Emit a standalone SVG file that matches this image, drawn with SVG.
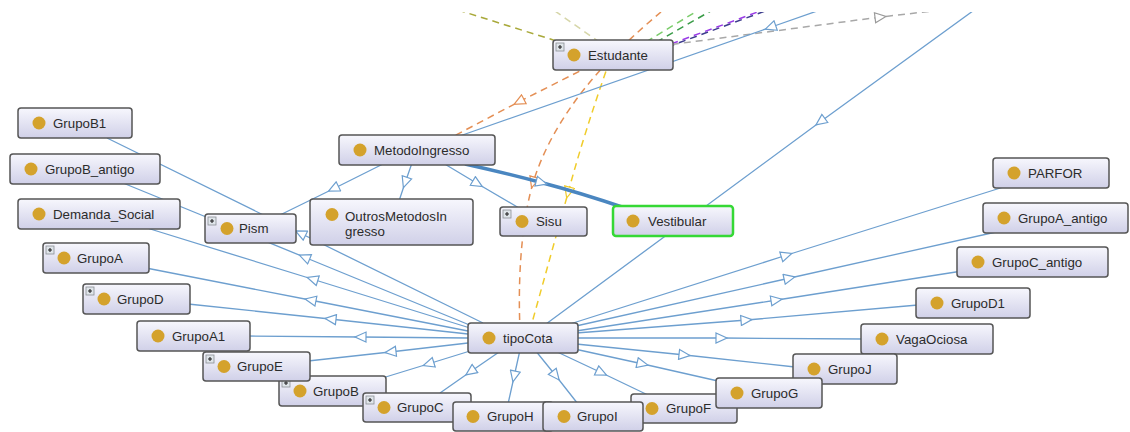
<svg xmlns="http://www.w3.org/2000/svg" width="1130" height="432" viewBox="0 0 1130 432">
  <defs>
    <linearGradient id="boxFill" x1="0" y1="0" x2="0" y2="1">
      <stop offset="0" stop-color="#f7f7fd"/>
      <stop offset="1" stop-color="#d0d0e8"/>
    </linearGradient>
    <clipPath id="viewClip">
      <rect x="0" y="12" width="1130" height="420"/>
    </clipPath>
    <!-- hollow mid-edge arrowheads -->
    <marker id="arrBlue" markerUnits="userSpaceOnUse" viewBox="-1 -1 14 12" markerWidth="14" markerHeight="12" refX="6" refY="5" orient="auto">
      <path d="M0,0 L11,5 L0,10 Z" fill="#fff" stroke="#6d9fcf" stroke-width="1.2"/>
    </marker>
    <marker id="arrOrange" markerUnits="userSpaceOnUse" viewBox="-1 -1 14 12" markerWidth="14" markerHeight="12" refX="6" refY="5" orient="auto">
      <path d="M0,0 L11,5 L0,10 Z" fill="#fff" stroke="#e48f55" stroke-width="1.2"/>
    </marker>
    <marker id="arrYellow" markerUnits="userSpaceOnUse" viewBox="-1 -1 14 12" markerWidth="14" markerHeight="12" refX="6" refY="5" orient="auto">
      <path d="M0,0 L11,5 L0,10 Z" fill="#fff" stroke="#f0cc2a" stroke-width="1.2"/>
    </marker>
    <marker id="arrGray" markerUnits="userSpaceOnUse" viewBox="-1 -1 14 12" markerWidth="14" markerHeight="12" refX="6" refY="5" orient="auto">
      <path d="M0,0 L11,5 L0,10 Z" fill="#fff" stroke="#9a9a9a" stroke-width="1.2"/>
    </marker>
    <g id="plusIcon">
      <rect x="0" y="0" width="8" height="8" fill="#dfe5ea" stroke="#8a8f95" stroke-width="0.8"/>
      <path d="M2,4 H6 M4,2 V6" stroke="#222" stroke-width="1.1"/>
    </g>
  </defs>
  <style>
    .edge { fill: none; stroke: #6d9fcf; stroke-width: 1.3; marker-mid: url(#arrBlue); }
    .thick { fill: none; stroke: #4a86c0; stroke-width: 3.5; marker-mid: url(#arrBlue); }
    .dash { fill: none; stroke-width: 1.5; stroke-dasharray: 7 5; }
    .node rect.box { fill: url(#boxFill); stroke: #555; stroke-width: 1.5; }
    .node circle { fill: #d4a22c; }
    .node text { font-family: "Liberation Sans", Arial, sans-serif; font-size: 13.3px; fill: #2b2b2b; }
    #n-Vestibular rect.box { stroke: #35d835; stroke-width: 2.5; }
  </style>

  <rect x="0" y="0" width="1130" height="432" fill="#ffffff"/>

  <g id="connectors" clip-path="url(#viewClip)">
    <!-- property links around Estudante -->
    <path class="dash" stroke="#a9a93a" d="M458,10 L585,50"/>
    <path class="dash" stroke="#d6d6a8" d="M545,4 L605,46"/>
    <path class="dash" stroke="#7acc6a" d="M636,48 L702,8"/>
    <path class="dash" stroke="#3a9c48" d="M646,48 L716,8"/>
    <path class="dash" stroke="#3c3c8c" stroke-width="1" d="M662,49 L776,7" stroke-dashoffset="6"/>
    <path class="dash" stroke="#9a3ce6" stroke-width="2.2" d="M660,48 L774,6"/>
    <path class="dash" stroke="#a8a8a8" d="M660,46 L881,17 L950,9" style="marker-mid:url(#arrGray)"/>
    <path class="dash" stroke="#e48f55" d="M661,12 C615,50 555,110 533,183 C525,210 517,260 520,330" style="marker-mid:url(#arrOrange)"/>
    <path class="dash" stroke="#e48f55" d="M590,66 L518.5,102 L454,136" style="marker-mid:url(#arrOrange)"/>
    <path class="dash" stroke="#f0cc2a" d="M610,60 Q585,130 568,193 Q550,258 530,330" style="marker-mid:url(#arrYellow)"/>

    <!-- subclass links -->
    <path class="edge" d="M820,10 L770,27.5 L454,138"/>
    <path class="edge" d="M977,8 L820,122 L546,324"/>
    <path class="edge" d="M385,163 L333,189 L280,215"/>
    <path class="edge" d="M412,163 L405,183 L399,201"/>
    <path class="edge" d="M443,163 L478,184 L519,208"/>
    <path class="thick" d="M465,164 Q503.5,172.5 542,182.75 Q581,193 625,208"/>

    <path class="edge" d="M483,323 L300,233 L107,138"/>
    <path class="edge" d="M472,326 L304,257 L123,183"/>
    <path class="edge" d="M470,328 L312,279 L147,228"/>
    <path class="edge" d="M468,331 L310,300 L146,268"/>
    <path class="edge" d="M468,334 L330,319 L188,304"/>
    <path class="edge" d="M468,338 L360,337 L248,336"/>
    <path class="edge" d="M468,343 L390,352 L308,361"/>
    <path class="edge" d="M470,351 L428,364 L384,377.5"/>
    <path class="edge" d="M502,350 L470,372 L440,393"/>
    <path class="edge" d="M520,350 L514,377 L508,404"/>
    <path class="edge" d="M535,350 L556,376 L578,404"/>
    <path class="edge" d="M553,350 L602,373 L650,396"/>
    <path class="edge" d="M570,348 L643,364 L718,381"/>
    <path class="edge" d="M576,344 L685,355 L795,367"/>
    <path class="edge" d="M576,338 L722,338 L863,339"/>
    <path class="edge" d="M576,333 L747,320 L918,305"/>
    <path class="edge" d="M576,331 L777,300 L975,269"/>
    <path class="edge" d="M576,326 L790,278 L1005,230"/>
    <path class="edge" d="M570,324 L787,255 L1010,185"/>
  </g>

  <!-- classes -->
  <g id="n-Estudante" class="node">
    <rect class="box" x="553" y="40" width="120" height="30" rx="3"/>
    <use href="#plusIcon" x="556" y="43"/>
    <circle cx="574" cy="55" r="6.5"/>
    <text x="588" y="59.5">Estudante</text>
  </g>
  <g id="n-MetodoIngresso" class="node">
    <rect class="box" x="339" y="135" width="156" height="30" rx="3"/>
    <circle cx="360" cy="150" r="6.5"/>
    <text x="374" y="154.5">MetodoIngresso</text>
  </g>
  <g id="n-GrupoB1" class="node">
    <rect class="box" x="18" y="108" width="114" height="30" rx="3"/>
    <circle cx="39" cy="123" r="6.5"/>
    <text x="53" y="127.5">GrupoB1</text>
  </g>
  <g id="n-GrupoB_antigo" class="node">
    <rect class="box" x="10" y="154" width="150" height="30" rx="3"/>
    <circle cx="31" cy="169" r="6.5"/>
    <text x="45" y="173.5">GrupoB_antigo</text>
  </g>
  <g id="n-Demanda_Social" class="node">
    <rect class="box" x="18" y="199" width="162" height="30" rx="3"/>
    <circle cx="39" cy="214" r="6.5"/>
    <text x="53" y="218.5">Demanda_Social</text>
  </g>
  <g id="n-Pism" class="node">
    <rect class="box" x="205" y="214" width="91" height="29" rx="3"/>
    <use href="#plusIcon" x="208" y="217"/>
    <circle cx="227" cy="228.5" r="6.5"/>
    <text x="239" y="233">Pism</text>
  </g>
  <g id="n-OutrosMetodosIngresso" class="node">
    <rect class="box" x="310" y="199" width="163" height="46" rx="3"/>
    <circle cx="332" cy="214.5" r="6.5"/>
    <text x="345" y="220.5">OutrosMetodosIn</text>
    <text x="345" y="235.5">gresso</text>
  </g>
  <g id="n-Sisu" class="node">
    <rect class="box" x="500" y="207" width="87" height="29" rx="3"/>
    <use href="#plusIcon" x="503" y="210"/>
    <circle cx="522" cy="221.5" r="6.5"/>
    <text x="536" y="226">Sisu</text>
  </g>
  <g id="n-Vestibular" class="node">
    <rect class="box" x="613" y="206" width="120" height="30" rx="3"/>
    <circle cx="633" cy="221" r="6.5"/>
    <text x="648" y="225.5">Vestibular</text>
  </g>
  <g id="n-PARFOR" class="node">
    <rect class="box" x="993" y="158" width="116" height="30" rx="3"/>
    <circle cx="1014" cy="173" r="6.5"/>
    <text x="1028" y="177.5">PARFOR</text>
  </g>
  <g id="n-GrupoA_antigo" class="node">
    <rect class="box" x="983" y="203" width="145" height="30" rx="3"/>
    <circle cx="1004" cy="218" r="6.5"/>
    <text x="1018" y="222.5">GrupoA_antigo</text>
  </g>
  <g id="n-GrupoC_antigo" class="node">
    <rect class="box" x="957" y="247" width="151" height="30" rx="3"/>
    <circle cx="978" cy="262" r="6.5"/>
    <text x="992" y="266.5">GrupoC_antigo</text>
  </g>
  <g id="n-GrupoD1" class="node">
    <rect class="box" x="916" y="288" width="114" height="30" rx="3"/>
    <circle cx="937" cy="303" r="6.5"/>
    <text x="951" y="307.5">GrupoD1</text>
  </g>
  <g id="n-VagaOciosa" class="node">
    <rect class="box" x="861" y="324" width="132" height="30" rx="3"/>
    <circle cx="882" cy="339" r="6.5"/>
    <text x="896" y="343.5">VagaOciosa</text>
  </g>
  <g id="n-GrupoJ" class="node">
    <rect class="box" x="793" y="354" width="104" height="30" rx="3"/>
    <circle cx="814" cy="369" r="6.5"/>
    <text x="828" y="373.5">GrupoJ</text>
  </g>
  <g id="n-GrupoA" class="node">
    <rect class="box" x="43" y="243" width="106" height="30" rx="3"/>
    <use href="#plusIcon" x="46" y="246"/>
    <circle cx="64" cy="258" r="6.5"/>
    <text x="77" y="262.5">GrupoA</text>
  </g>
  <g id="n-GrupoD" class="node">
    <rect class="box" x="83" y="284" width="107" height="30" rx="3"/>
    <use href="#plusIcon" x="86" y="287"/>
    <circle cx="104" cy="299" r="6.5"/>
    <text x="117" y="303.5">GrupoD</text>
  </g>
  <g id="n-GrupoA1" class="node">
    <rect class="box" x="137" y="321" width="113" height="30" rx="3"/>
    <circle cx="158" cy="336" r="6.5"/>
    <text x="172" y="340.5">GrupoA1</text>
  </g>
  <g id="n-GrupoB" class="node">
    <rect class="box" x="279" y="376" width="107" height="30" rx="3"/>
    <use href="#plusIcon" x="282" y="379"/>
    <circle cx="300" cy="391" r="6.5"/>
    <text x="313" y="395.5">GrupoB</text>
  </g>
  <g id="n-GrupoE" class="node">
    <rect class="box" x="203" y="352" width="107" height="29" rx="3"/>
    <use href="#plusIcon" x="206" y="355"/>
    <circle cx="224" cy="366.5" r="6.5"/>
    <text x="237" y="371">GrupoE</text>
  </g>
  <g id="n-GrupoC" class="node">
    <rect class="box" x="363" y="393" width="108" height="29" rx="3"/>
    <use href="#plusIcon" x="366" y="396"/>
    <circle cx="384" cy="407.5" r="6.5"/>
    <text x="397" y="412">GrupoC</text>
  </g>
  <g id="n-GrupoH" class="node">
    <rect class="box" x="453" y="402" width="100" height="29" rx="3"/>
    <circle cx="473" cy="416.5" r="6.5"/>
    <text x="487" y="421">GrupoH</text>
  </g>
  <g id="n-GrupoF" class="node">
    <rect class="box" x="631" y="394" width="106" height="29" rx="3"/>
    <circle cx="652" cy="408.5" r="6.5"/>
    <text x="666" y="413">GrupoF</text>
  </g>
  <g id="n-GrupoI" class="node">
    <rect class="box" x="543" y="402" width="100" height="29" rx="3"/>
    <circle cx="564" cy="416.5" r="6.5"/>
    <text x="577" y="421">GrupoI</text>
  </g>
  <g id="n-GrupoG" class="node">
    <rect class="box" x="716" y="378" width="106" height="30" rx="3"/>
    <circle cx="737" cy="393" r="6.5"/>
    <text x="751" y="397.5">GrupoG</text>
  </g>
  <g id="n-tipoCota" class="node">
    <rect class="box" x="468" y="323" width="110" height="30" rx="3"/>
    <circle cx="489" cy="338" r="6.5"/>
    <text x="503" y="342.5">tipoCota</text>
  </g>
</svg>
